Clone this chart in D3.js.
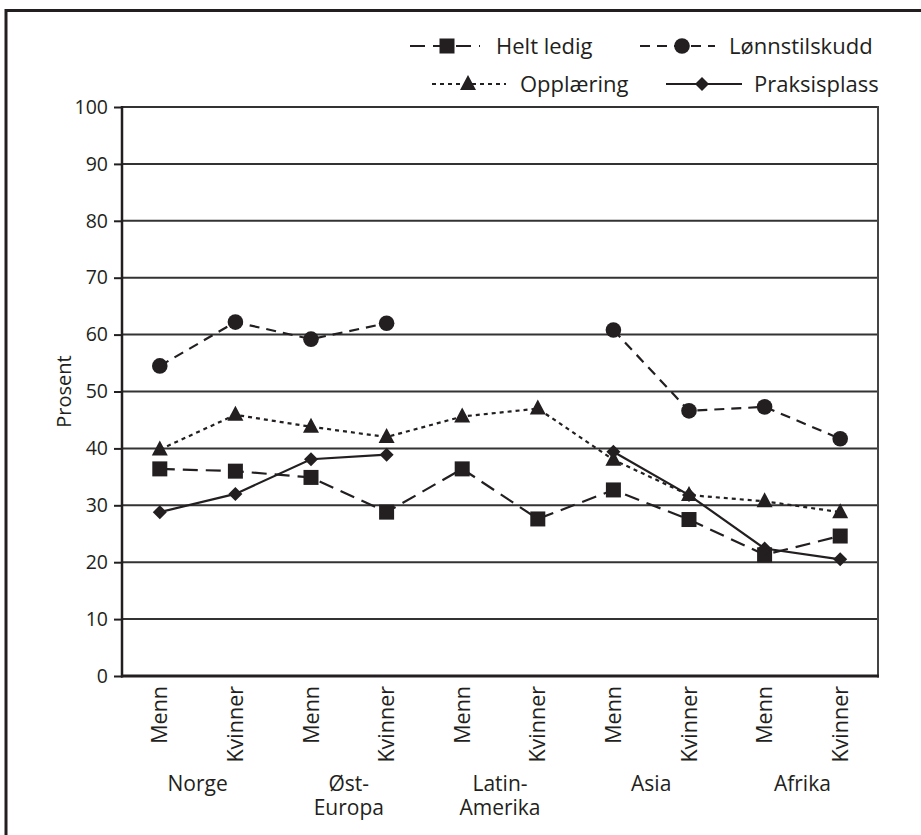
<!DOCTYPE html>
<html>
<head>
<meta charset="utf-8">
<script src="https://cdn.jsdelivr.net/npm/d3@7"></script>
<style>
  html, body { margin: 0; padding: 0; background: #fff; }
  svg { display: block; font-family: "Open Sans", "Noto Sans", sans-serif; }
</style>
</head>
<body>
<svg id="chart" width="921" height="835"></svg>
<script>
// ---- data ----
const categories = ["Menn", "Kvinner", "Menn", "Kvinner", "Menn", "Kvinner", "Menn", "Kvinner", "Menn", "Kvinner"];
const groups = [["Norge"], ["Øst-", "Europa"], ["Latin-", "Amerika"], ["Asia"], ["Afrika"]];
const seriesNames = ["Helt ledig", "Lønnstilskudd", "Opplæring", "Praksisplass"];
const heltLedig     = [36.4, 36.0, 34.9, 28.8, 36.4, 27.6, 32.7, 27.5, 21.3, 24.6];
const lonnstilskudd = [54.5, 62.2, 59.2, 62.0, null, null, 60.8, 46.6, 47.3, 41.7];
const opplaering    = [39.8, 45.9, 43.8, 42.0, 45.6, 47.0, 38.0, 31.8, 30.7, 28.8];
const praksisplass  = [28.8, 32.0, 38.1, 38.9, null, null, 39.4, 31.8, 22.4, 20.5];
const yTicks = [0, 10, 20, 30, 40, 50, 60, 70, 80, 90, 100];
const yLabel = "Prosent";

const seriesValues = [heltLedig, lonnstilskudd, opplaering, praksisplass];
const ink = "#231f20";
const styles = [
  { dash: "15,8", symbol: "square" },
  { dash: "10,7", symbol: "circle" },
  { dash: "4,4", symbol: "triangle" },
  { dash: null, symbol: "diamond" }
];

const svg = d3.select("#chart");

// outer frame (continues beyond the page)
svg.append("path")
  .attr("d", "M6,860 L6,10.5 L940,10.5")
  .attr("fill", "none").attr("stroke", ink).attr("stroke-width", 3);

const plot = { left: 122, right: 878, top: 107, bottom: 676 };
const idx = d3.range(categories.length);
const x = d3.scalePoint().domain(idx).range([plot.left, plot.right]).padding(0.5);
const y = d3.scaleLinear().domain([0, 100]).range([plot.bottom, plot.top]);

// gridlines
svg.append("g").selectAll("line").data(yTicks.filter(d => d > 0)).join("line")
  .attr("x1", plot.left).attr("x2", plot.right)
  .attr("y1", d => y(d)).attr("y2", d => y(d))
  .attr("stroke", "#333").attr("stroke-width", 2);

// y axis
const yAxis = svg.append("g").attr("transform", `translate(${plot.left},0)`)
  .call(d3.axisLeft(y).tickValues(yTicks).tickSize(8).tickPadding(6));
yAxis.attr("font-size", null).attr("font-family", null);
yAxis.select(".domain").remove();
yAxis.selectAll(".tick line").attr("stroke", ink).attr("stroke-width", 2);
yAxis.selectAll(".tick text").attr("fill", ink).attr("font-size", "19.5px");

// plot frame lines: left axis, bottom axis, right
svg.append("line").attr("x1", plot.left).attr("x2", plot.left)
  .attr("y1", plot.top - 1).attr("y2", plot.bottom + 1.5)
  .attr("stroke", ink).attr("stroke-width", 2.5);
svg.append("line").attr("x1", plot.right).attr("x2", plot.right)
  .attr("y1", plot.top - 1).attr("y2", plot.bottom + 1.5)
  .attr("stroke", "#444").attr("stroke-width", 2);
svg.append("line").attr("x1", plot.left - 1).attr("x2", plot.right + 1)
  .attr("y1", plot.bottom).attr("y2", plot.bottom)
  .attr("stroke", ink).attr("stroke-width", 3);

// y label
svg.append("text")
  .attr("transform", `translate(71,${(plot.top + plot.bottom) / 2}) rotate(-90)`)
  .attr("text-anchor", "middle")
  .attr("fill", ink).attr("font-size", "20px").text(yLabel);

// x category labels (rotated)
svg.append("g").selectAll("text").data(idx).join("text")
  .attr("transform", d => `translate(${x(d) + 7.5},${plot.bottom + 10}) rotate(-90)`)
  .attr("text-anchor", "end")
  .attr("fill", ink).attr("font-size", "21.5px")
  .text(d => categories[d]);

// group labels (one text per line)
const glines = [];
groups.forEach((g, i) => g.forEach((t, j) => glines.push({ i, j, t })));
svg.append("g").selectAll("text").data(glines).join("text")
  .attr("text-anchor", "middle")
  .attr("fill", ink).attr("font-size", "21px")
  .attr("x", d => (x(2 * d.i) + x(2 * d.i + 1)) / 2)
  .attr("y", d => 791 + d.j * 24)
  .text(d => d.t);

// marker drawing
function marker(g, type, cx, cy) {
  if (type === "square") {
    g.append("rect").attr("x", cx - 7.5).attr("y", cy - 7.5).attr("width", 15).attr("height", 15).attr("fill", ink);
  } else if (type === "circle") {
    g.append("circle").attr("cx", cx).attr("cy", cy).attr("r", 7.8).attr("fill", ink);
  } else if (type === "triangle") {
    g.append("path").attr("d", `M${cx},${cy - 9} L${cx + 8},${cy + 6} L${cx - 8},${cy + 6} Z`).attr("fill", ink);
  } else {
    g.append("path").attr("d", `M${cx},${cy - 7} L${cx + 7},${cy} L${cx},${cy + 7} L${cx - 7},${cy} Z`).attr("fill", ink);
  }
}

const line = d3.line()
  .defined(d => d.v !== null)
  .x(d => x(d.i)).y(d => y(d.v));

seriesValues.forEach((vals, s) => {
  const data = vals.map((v, i) => ({ i, v }));
  const g = svg.append("g");
  g.append("path").datum(data)
    .attr("d", line)
    .attr("fill", "none").attr("stroke", ink).attr("stroke-width", 2.2)
    .attr("stroke-dasharray", styles[s].dash);
  data.filter(d => d.v !== null).forEach(d => marker(g, styles[s].symbol, x(d.i), y(d.v)));
});

// legend
const legendItems = [
  { s: 0, x1: 410, x2: 480, mx: 447, ty: 46, tx: 496 },
  { s: 1, x1: 640, x2: 715, mx: 682, ty: 46, tx: 729 },
  { s: 2, x1: 432, x2: 506, mx: 468, ty: 84, tx: 520 },
  { s: 3, x1: 666, x2: 742, mx: 702, ty: 84, tx: 754 }
];
const lg = svg.append("g");
legendItems.forEach(it => {
  lg.append("line").attr("x1", it.x1).attr("x2", it.x2).attr("y1", it.ty).attr("y2", it.ty)
    .attr("stroke", ink).attr("stroke-width", 2.2)
    .attr("stroke-dasharray", styles[it.s].dash);
  marker(lg, styles[it.s].symbol, it.mx, it.ty);
  lg.append("text").attr("x", it.tx).attr("y", it.ty).attr("dy", "0.35em")
    .attr("fill", ink).attr("font-size", "22px").text(seriesNames[it.s]);
});
</script>
</body>
</html>
